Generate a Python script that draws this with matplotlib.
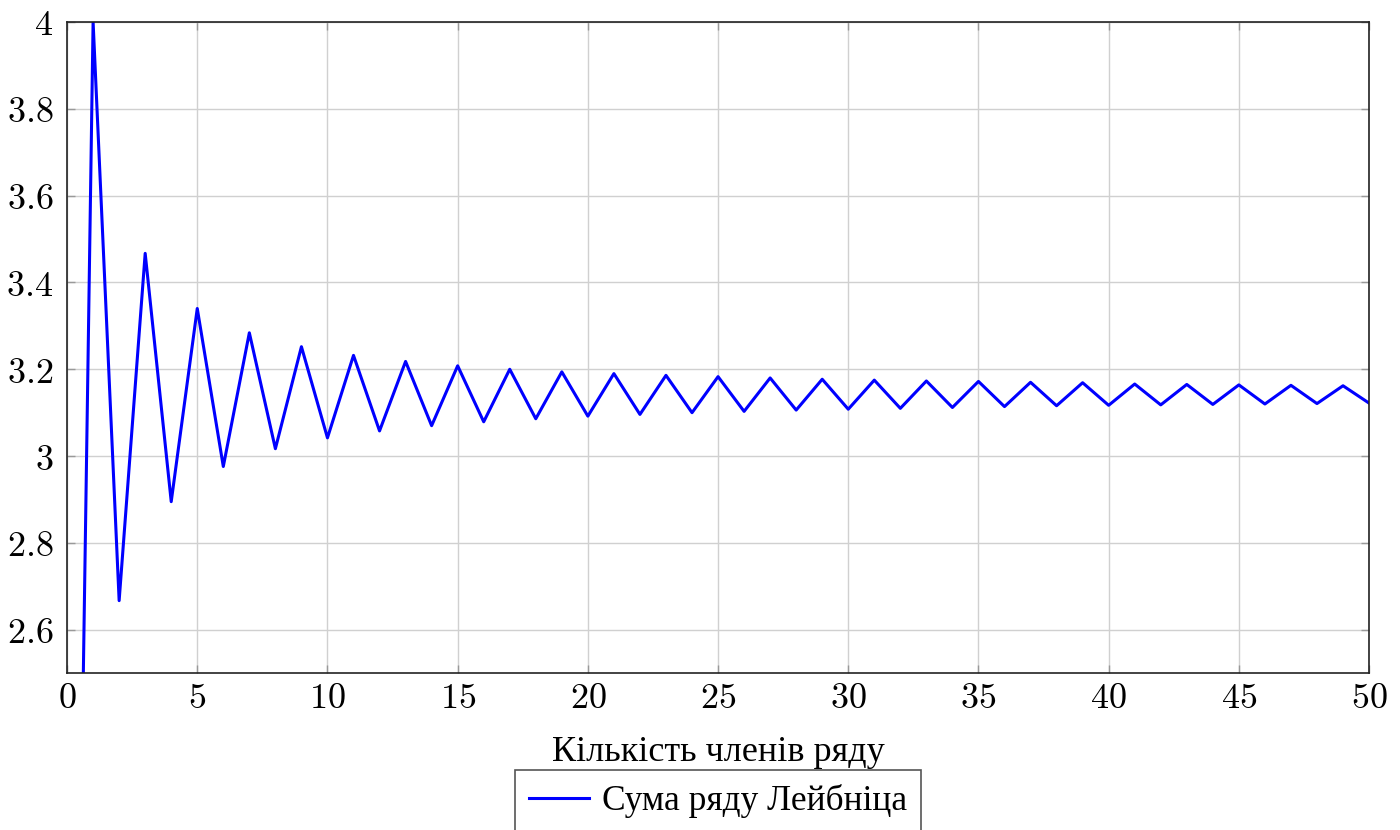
import matplotlib
matplotlib.use("Agg")
import matplotlib.pyplot as plt

plt.rcParams['mathtext.fontset'] = 'cm'

# partial sums of the Leibniz series
n_terms = list(range(0, 51))
sums = [0.0, 4.0, 2.667, 3.467, 2.895, 3.340, 2.976, 3.284, 3.017, 3.252,
        3.042, 3.232, 3.058, 3.218, 3.070, 3.208, 3.079, 3.200, 3.086, 3.194,
        3.092, 3.190, 3.096, 3.186, 3.100, 3.183, 3.103, 3.180, 3.106, 3.177,
        3.108, 3.175, 3.110, 3.173, 3.112, 3.172, 3.114, 3.170, 3.116, 3.169,
        3.117, 3.166, 3.118, 3.165, 3.119, 3.164, 3.120, 3.163, 3.121, 3.162,
        3.122]

x_ticks = [0, 5, 10, 15, 20, 25, 30, 35, 40, 45, 50]
y_ticks = [2.6, 2.8, 3.0, 3.2, 3.4, 3.6, 3.8, 4.0]
y_tick_labels = ["2.6", "2.8", "3", "3.2", "3.4", "3.6", "3.8", "4"]

fig = plt.figure(figsize=(14, 8.3), dpi=100)
ax = fig.add_axes([0.0479, 0.189, 0.9300, 0.7845])

ax.plot(n_terms, sums, color="#0000ff", lw=2.2, label="Сума ряду Лейбніца")

ax.set_xlim(0, 50)
ax.set_ylim(2.5, 4.0)
ax.set_xticks(x_ticks)
ax.set_xticklabels(["$%d$" % t for t in x_ticks])
ax.set_yticks(y_ticks)
ax.set_yticklabels(["$%s$" % s for s in y_tick_labels])
ax.tick_params(direction="in", length=6, width=1, color="#999999",
               top=True, right=True, labelsize=26)
ax.tick_params(axis="x", pad=6)
ax.tick_params(axis="y", pad=10)
ax.grid(True, color="#d0d0d0", lw=1)
for sp in ax.spines.values():
    sp.set_color("#222222")
    sp.set_linewidth(1.2)

ax.set_xlabel("Кількість членів ряду", family="Liberation Serif",
              fontsize=26, labelpad=15)

leg = ax.legend(loc="upper center", bbox_to_anchor=(0.5, -0.149),
                prop={"family": "Liberation Serif", "size": 25.5},
                fancybox=False, framealpha=1, edgecolor="#555555",
                handlelength=1.7, borderpad=0.4, handletextpad=0.37,
                borderaxespad=0)
leg.get_frame().set_linewidth(1.2)

fig.savefig("out.png", dpi=100)
